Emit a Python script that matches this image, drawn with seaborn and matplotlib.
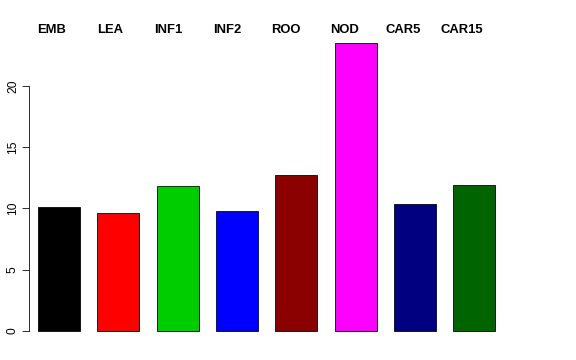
import matplotlib
matplotlib.use("Agg")
import matplotlib.pyplot as plt
import matplotlib.transforms as mtransforms
import seaborn as sns
import pandas as pd

tissues = ["EMB", "LEA", "INF1", "INF2", "ROO", "NOD", "CAR5", "CAR15"]
values = [10.1, 9.65, 11.85, 9.77, 12.7, 23.5, 10.35, 11.9]
colors = ["#000000", "#FF0000", "#00CD00", "#0000FF", "#8B0000", "#FF00FF", "#000080", "#006400"]
yticks = [0, 5, 10, 15, 20]

sns.set_style("white")
plt.rcParams["font.family"] = ["Liberation Sans", "DejaVu Sans"]
plt.rcParams["text.color"] = "black"

df = pd.DataFrame({"tissue": tissues, "value": values})

fig = plt.figure(figsize=(8, 5), dpi=72)
W, H = 576, 360
ax = fig.add_axes([29 / W, 17.5 / H, (521 - 29) / W, (342.5 - 31.6) / H])

sns.barplot(data=df, x="tissue", y="value", hue="tissue", palette=colors,
            legend=False, width=0.708, edgecolor="black", linewidth=0.8,
            saturation=1, ax=ax)

ax.set_xlim(-0.506, 7.79)
ax.set_ylim(-0.94, 24.44)
ax.set_xlabel("")
ax.set_ylabel("")
ax.set_xticks([])
ax.set_yticks(yticks)
ax.set_yticklabels([str(t) for t in yticks], rotation=90, va="center")
ax.tick_params(axis="y", length=7, width=0.8, pad=3, labelsize=12, colors="black", left=True)
for s in ["top", "right", "bottom"]:
    ax.spines[s].set_visible(False)
ax.spines["left"].set_bounds(0, 20)
ax.spines["left"].set_linewidth(0.8)
ax.spines["left"].set_color("black")

# tissue names along the top (label centres spaced slightly tighter than bars)
for i, name in enumerate(tissues):
    xpix = 51.2 + 58.6 * i
    fig.text(xpix / W, 1 - 30 / H, name, ha="center", va="center",
             fontsize=13, fontweight="bold", color="black")

fig.savefig("out.png", dpi=72)
